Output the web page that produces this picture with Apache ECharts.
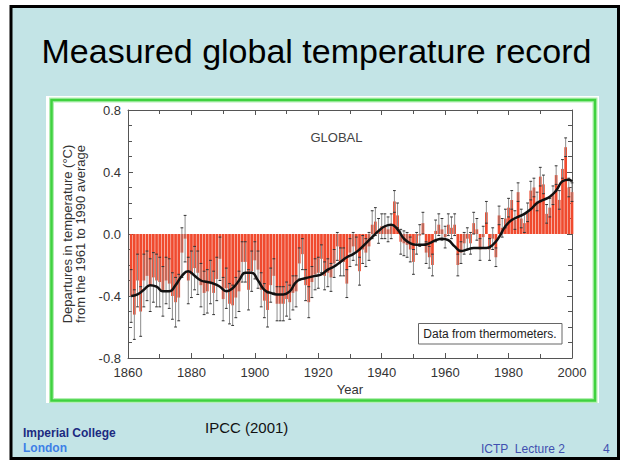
<!DOCTYPE html>
<html>
<head>
<meta charset="utf-8">
<script src="https://cdn.jsdelivr.net/npm/echarts@6/dist/echarts.min.js"></script>
<style>
html,body{margin:0;padding:0;background:#ffffff;}
#chart{width:624px;height:461px;}
</style>
</head>
<body>
<div id="chart"></div>
<script>
// ---- data ----
var years = [
1861,1862,1863,1864,1865,1866,1867,1868,1869,1870,
1871,1872,1873,1874,1875,1876,1877,1878,1879,1880,
1881,1882,1883,1884,1885,1886,1887,1888,1889,1890,
1891,1892,1893,1894,1895,1896,1897,1898,1899,1900,
1901,1902,1903,1904,1905,1906,1907,1908,1909,1910,
1911,1912,1913,1914,1915,1916,1917,1918,1919,1920,
1921,1922,1923,1924,1925,1926,1927,1928,1929,1930,
1931,1932,1933,1934,1935,1936,1937,1938,1939,1940,
1941,1942,1943,1944,1945,1946,1947,1948,1949,1950,
1951,1952,1953,1954,1955,1956,1957,1958,1959,1960,
1961,1962,1963,1964,1965,1966,1967,1968,1969,1970,
1971,1972,1973,1974,1975,1976,1977,1978,1979,1980,
1981,1982,1983,1984,1985,1986,1987,1988,1989,1990,
1991,1992,1993,1994,1995,1996,1997,1998,1999,2000
];
var anomalies = [
-0.40,-0.52,-0.30,-0.50,-0.30,-0.27,-0.33,-0.28,-0.30,-0.31,
-0.37,-0.30,-0.32,-0.40,-0.44,-0.41,-0.12,-0.03,-0.30,-0.26,
-0.22,-0.25,-0.33,-0.38,-0.37,-0.31,-0.38,-0.29,-0.16,-0.42,
-0.35,-0.45,-0.46,-0.41,-0.37,-0.18,-0.18,-0.36,-0.24,-0.17,
-0.23,-0.36,-0.43,-0.49,-0.33,-0.27,-0.45,-0.45,-0.45,-0.42,
-0.44,-0.38,-0.37,-0.19,-0.13,-0.33,-0.44,-0.31,-0.26,-0.25,
-0.16,-0.27,-0.25,-0.28,-0.19,-0.08,-0.18,-0.18,-0.32,-0.12,
-0.08,-0.11,-0.24,-0.10,-0.12,-0.08,0.06,0.08,0.02,0.05,
0.05,0.03,0.05,0.21,0.12,-0.05,-0.06,-0.07,-0.10,-0.18,
-0.06,-0.01,0.07,-0.12,-0.15,-0.20,0.02,0.06,0.03,-0.02,
0.06,0.04,0.06,-0.20,-0.12,-0.06,-0.03,-0.06,0.07,0.03,
-0.10,-0.02,0.14,-0.10,-0.03,-0.15,0.12,0.04,0.10,0.17,
0.22,0.09,0.27,0.10,0.07,0.14,0.28,0.30,0.21,0.37,
0.32,0.13,0.17,0.25,0.38,0.22,0.42,0.56,0.30,0.27
];
var errors = [
0.17,0.16,0.17,0.16,0.17,0.16,0.17,0.16,0.17,0.16,
0.16,0.15,0.16,0.15,0.16,0.15,0.16,0.15,0.15,0.15,
0.14,0.14,0.14,0.14,0.14,0.14,0.14,0.14,0.14,0.14,
0.13,0.13,0.13,0.13,0.13,0.13,0.13,0.13,0.13,0.12,
0.12,0.11,0.11,0.11,0.11,0.11,0.11,0.11,0.11,0.11,
0.11,0.11,0.10,0.10,0.10,0.10,0.10,0.10,0.10,0.10,
0.09,0.09,0.09,0.09,0.09,0.09,0.09,0.09,0.09,0.09,
0.09,0.09,0.09,0.09,0.09,0.09,0.09,0.09,0.08,0.08,
0.08,0.08,0.08,0.07,0.08,0.08,0.08,0.08,0.08,0.08,
0.07,0.07,0.07,0.07,0.07,0.07,0.07,0.07,0.07,0.07,
0.07,0.07,0.07,0.07,0.07,0.07,0.07,0.07,0.07,0.07,
0.07,0.07,0.07,0.07,0.07,0.06,0.06,0.06,0.06,0.06,
0.06,0.06,0.06,0.06,0.06,0.06,0.06,0.06,0.06,0.06,
0.06,0.06,0.06,0.06,0.06,0.06,0.06,0.06,0.06,0.06
];
var smoothYears = [
1861,1863,1865,1867,1869,1871,1873,1875,1877,1879,
1881,1883,1885,1887,1889,1891,1893,1895,1897,1899,
1901,1903,1905,1907,1909,1911,1913,1915,1917,1919,
1921,1923,1925,1927,1929,1931,1933,1935,1937,1939,
1941,1943,1945,1947,1949,1951,1953,1955,1957,1959,
1961,1963,1965,1967,1969,1971,1973,1975,1977,1979,
1981,1983,1985,1987,1989,1991,1993,1995,1997,1999,2000
];
var smoothValues = [
-0.40,-0.39,-0.36,-0.33,-0.34,-0.37,-0.37,-0.33,-0.27,-0.24,
-0.27,-0.30,-0.31,-0.32,-0.34,-0.37,-0.35,-0.30,-0.25,-0.25,
-0.30,-0.36,-0.38,-0.39,-0.39,-0.37,-0.31,-0.29,-0.28,-0.27,
-0.26,-0.23,-0.21,-0.18,-0.15,-0.13,-0.10,-0.06,-0.02,0.02,
0.05,0.06,0.03,-0.03,-0.06,-0.07,-0.07,-0.06,-0.04,-0.03,
-0.04,-0.08,-0.11,-0.10,-0.09,-0.09,-0.09,-0.07,-0.02,0.05,
0.09,0.11,0.13,0.16,0.20,0.22,0.24,0.28,0.34,0.35,0.34
];
var xTickLabels = ['1860','1880','1900','1920','1940','1960','1980','2000'];
var yTickLabels = ['-0.8','-0.4','0.0','0.4','0.8'];

// ---- build ----
var FONT = "'Liberation Sans', Arial, Helvetica, sans-serif";
var barData = years.map(function (y, i) { return [y, anomalies[i]]; });
var errData = years.map(function (y, i) { return [y, anomalies[i] - errors[i], anomalies[i] + errors[i]]; });
var lineData = smoothYears.map(function (y, i) { return [y, smoothValues[i]]; });

var chart = echarts.init(document.getElementById('chart'), null, {renderer: 'svg'});

function axisBase(pos, showLabel) {
  return {
    position: pos,
    axisLine: {show: true, onZero: false, lineStyle: {color: '#555', width: 1}},
    axisTick: {show: true, inside: true, length: 5, lineStyle: {color: '#555'}},
    splitLine: {show: false},
    axisLabel: {show: showLabel, color: '#333', fontSize: 13, fontFamily: FONT}
  };
}

var xb = axisBase('bottom', true);
xb.type = 'value'; xb.min = 1860; xb.max = 2000; xb.interval = 20;
xb.minorTick = {show: true, splitNumber: 2, length: 4, lineStyle: {color: '#555'}};
xb.axisLabel.margin = 8;
xb.axisLabel.formatter = function (v) { var i = xTickLabels.indexOf(String(v)); return i >= 0 ? xTickLabels[i] : ''; };
var xt = axisBase('top', false);
xt.type = 'value'; xt.min = 1860; xt.max = 2000; xt.interval = 20;
xt.minorTick = {show: true, splitNumber: 2, length: 4, lineStyle: {color: '#555'}};

var yl = axisBase('left', true);
yl.type = 'value'; yl.min = -0.8; yl.max = 0.8; yl.interval = 0.4;
yl.minorTick = {show: true, splitNumber: 4, length: 4, lineStyle: {color: '#555'}};
yl.axisLabel.margin = 7;
yl.axisLabel.formatter = function (v) {
  var s = (Math.abs(v) < 1e-9 ? 0 : v).toFixed(1);
  return yTickLabels.indexOf(s) >= 0 ? s : '';
};
var yr = axisBase('right', false);
yr.type = 'value'; yr.min = -0.8; yr.max = 0.8; yr.interval = 0.4;
yr.minorTick = {show: true, splitNumber: 4, length: 4, lineStyle: {color: '#555'}};

function txt(text, x, y, size, color, opts) {
  opts = opts || {};
  return {
    type: 'text', x: x, y: y, z: 20, rotation: opts.rotation || 0,
    style: {
      text: text, fill: color, fontSize: size, fontFamily: FONT,
      fontWeight: opts.bold ? 'bold' : 'normal',
      textAlign: opts.align || 'left', textVerticalAlign: 'middle'
    }
  };
}

var option = {
  animation: false,
  backgroundColor: '#ffffff',
  grid: {left: 128, top: 110, width: 444, height: 248, containLabel: false},
  xAxis: [xb, xt],
  yAxis: [yl, yr],
  graphic: {elements: [
    {type: 'rect', z: -10, shape: {x: 11, y: 6.5, width: 607.5, height: 452}, style: {fill: '#c3e4e6', stroke: '#000', lineWidth: 3}},
    {type: 'rect', z: -9, shape: {x: 46, y: 96, width: 553, height: 307}, style: {fill: '#ffffff'}},
    {type: 'rect', z: -8, shape: {x: 51.5, y: 100, width: 543.5, height: 300.5}, style: {fill: 'none', stroke: '#b4efb4', lineWidth: 5}},
    {type: 'rect', z: -7, shape: {x: 51.5, y: 100, width: 543.5, height: 300.5}, style: {fill: 'none', stroke: '#3fd23f', lineWidth: 2.5}},
    txt('Measured global temperature record', 316.5, 51, 34, '#000', {align: 'center'}),
    txt('GLOBAL', 336.5, 137.5, 13, '#444', {align: 'center'}),
    {type: 'rect', z: 15, shape: {x: 418.5, y: 323.5, width: 143.5, height: 20.5}, style: {fill: '#fff', stroke: '#666', lineWidth: 1}},
    txt('Data from thermometers.', 490, 333.8, 12, '#222', {align: 'center'}),
    txt('Year', 350, 389.5, 13, '#333', {align: 'center'}),
    txt('Departures in temperature (\u00B0C)', 67, 234, 13, '#333', {align: 'center', rotation: Math.PI / 2}),
    txt('from the 1961 to 1990 average', 80, 234, 13, '#333', {align: 'center', rotation: Math.PI / 2}),
    txt('IPCC (2001)', 205, 427.8, 15, '#111'),
    txt('Imperial College', 23, 432.8, 12, '#1c2a80', {bold: true}),
    txt('London', 23, 447.8, 12, '#3d7fe6', {bold: true}),
    txt('ICTP  Lecture 2', 481, 448.8, 12, '#4050b0'),
    txt('4', 603, 448.8, 12, '#4050b0')
  ]},
  series: [
    {
      type: 'bar', xAxisIndex: 0, yAxisIndex: 0, data: barData, barWidth: 2.7, z: 2,
      itemStyle: {color: '#f04a2e'}, silent: true
    },
    {
      type: 'custom', xAxisIndex: 0, yAxisIndex: 0, data: errData, z: 3, silent: true,
      renderItem: function (params, api) {
        var x = api.value(0);
        var lo = api.coord([x, api.value(1)]);
        var hi = api.coord([x, api.value(2)]);
        var c = 1.4;
        return {type: 'group', children: [
          {type: 'line', shape: {x1: lo[0], y1: lo[1], x2: hi[0], y2: hi[1]}, style: {stroke: '#8c8c8c', lineWidth: 1}},
          {type: 'line', shape: {x1: lo[0] - c, y1: lo[1], x2: lo[0] + c, y2: lo[1]}, style: {stroke: '#333', lineWidth: 1}},
          {type: 'line', shape: {x1: hi[0] - c, y1: hi[1], x2: hi[0] + c, y2: hi[1]}, style: {stroke: '#333', lineWidth: 1}}
        ]};
      }
    },
    {
      type: 'line', xAxisIndex: 0, yAxisIndex: 0, data: lineData, smooth: 0.5, showSymbol: false, z: 4,
      lineStyle: {color: '#111', width: 2.5}, silent: true
    }
  ]
};
chart.setOption(option);
</script>
</body>
</html>
